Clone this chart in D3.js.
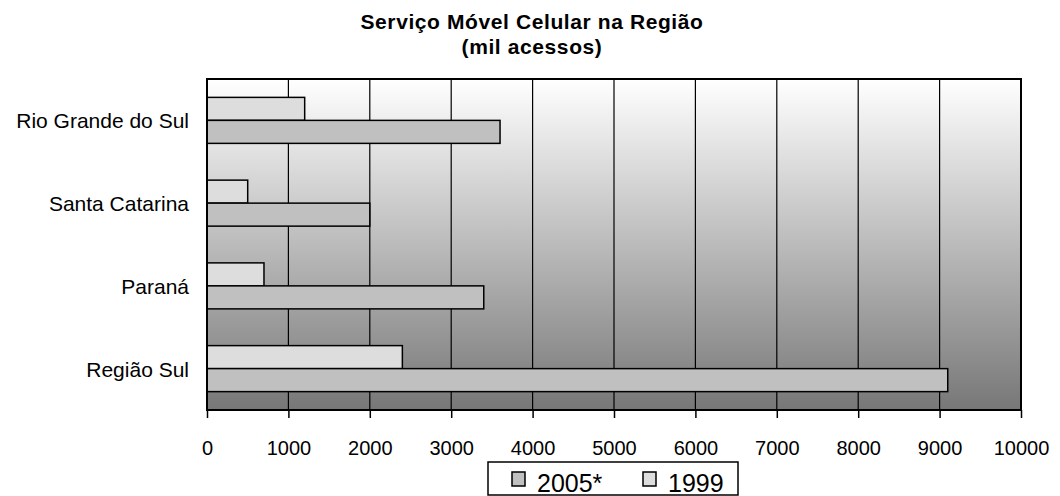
<!DOCTYPE html>
<html>
<head>
<meta charset="utf-8">
<script src="https://cdn.jsdelivr.net/npm/d3@7"></script>
<style>
  body { margin: 0; background: #fff; }
  text { font-family: "Liberation Sans", Arial, sans-serif; fill: #000; }
</style>
</head>
<body>
<div id="chart"></div>
<script>
// data
var categories = ['Rio Grande do Sul', 'Santa Catarina', 'Paraná', 'Região Sul']
var values1999 = [1200, 500, 700, 2400]
var values2005 = [3600, 2000, 3400, 9100]
var seriesNames = ['2005*', '1999']
var xTicks = [0, 1000, 2000, 3000, 4000, 5000, 6000, 7000, 8000, 9000, 10000]

var W = 1060, H = 496
var plotL = 207, plotR = 1021, plotT = 79, plotB = 410

var svg = d3.select('#chart').append('svg')
            .attr('width', W)
            .attr('height', H)

var defs = svg.append('defs')
var grad = defs.append('linearGradient')
               .attr('id', 'bg')
               .attr('x1', 0).attr('y1', 0)
               .attr('x2', 0).attr('y2', 1)
grad.append('stop').attr('offset', '0%').attr('stop-color', '#ffffff')
grad.append('stop').attr('offset', '100%').attr('stop-color', '#777777')

var x = d3.scaleLinear().domain([0, 10000]).range([plotL, plotR])
var y = d3.scaleBand().domain(categories).range([plotT, plotB]).paddingInner(0).paddingOuter(0)
var barH = 23
var pad = (y.bandwidth() - 2 * barH) / 2

// title
svg.append('text')
   .attr('x', 532).attr('y', 29)
   .attr('text-anchor', 'middle')
   .style('font-size', '21px').style('font-weight', 'bold').style('letter-spacing', '0.6px')
   .text('Serviço Móvel Celular na Região')
svg.append('text')
   .attr('x', 532).attr('y', 54)
   .attr('text-anchor', 'middle')
   .style('font-size', '21px').style('font-weight', 'bold').style('letter-spacing', '0.6px')
   .text('(mil acessos)')

// plot background
svg.append('rect')
   .attr('x', plotL).attr('y', plotT)
   .attr('width', plotR - plotL).attr('height', plotB - plotT)
   .attr('fill', 'url(#bg)')

// grid
svg.selectAll('.grid')
   .data(xTicks.slice(1, -1))
   .enter().append('line')
   .attr('x1', function(d){ return x(d) }).attr('x2', function(d){ return x(d) })
   .attr('y1', plotT).attr('y2', plotB)
   .attr('stroke', '#000').attr('stroke-width', 1.2)

// bars
categories.forEach(function(c, i){
   svg.append('rect')
      .attr('x', x(0)).attr('y', y(c) + pad)
      .attr('width', x(values1999[i]) - x(0)).attr('height', barH)
      .attr('fill', '#dddddd').attr('stroke', '#000').attr('stroke-width', 1.5)
   svg.append('rect')
      .attr('x', x(0)).attr('y', y(c) + pad + barH)
      .attr('width', x(values2005[i]) - x(0)).attr('height', barH)
      .attr('fill', '#c0c0c0').attr('stroke', '#000').attr('stroke-width', 1.5)
})

// frame
svg.append('rect')
   .attr('x', plotL).attr('y', plotT)
   .attr('width', plotR - plotL).attr('height', plotB - plotT)
   .attr('fill', 'none').attr('stroke', '#000').attr('stroke-width', 2)

// x axis
var xAxis = svg.append('g')
   .attr('transform', 'translate(0,' + plotB + ')')
   .call(d3.axisBottom(x).tickValues(xTicks).tickFormat(d3.format('d')).tickSize(8).tickPadding(0))
xAxis.select('.domain').remove()
xAxis.selectAll('line').attr('stroke', '#000').attr('stroke-width', 1.5)
xAxis.selectAll('text')
   .attr('y', 45).attr('dy', null)
   .style('font-size', '20px')
   .style('font-family', '"Liberation Sans", Arial, sans-serif')

// y labels
categories.forEach(function(c){
   svg.append('text')
      .attr('x', 189).attr('y', y(c) + y.bandwidth() / 2 + 8)
      .attr('text-anchor', 'end')
      .style('font-size', '21px')
      .text(c)
})

// legend
svg.append('rect')
   .attr('x', 488).attr('y', 462).attr('width', 250).attr('height', 33)
   .attr('fill', '#fff').attr('stroke', '#000').attr('stroke-width', 1.5)
var legColors = ['#c0c0c0', '#dddddd']
var legX = [512, 643]
seriesNames.forEach(function(n, i){
   svg.append('rect')
      .attr('x', legX[i]).attr('y', 472).attr('width', 13).attr('height', 14)
      .attr('fill', legColors[i]).attr('stroke', '#000').attr('stroke-width', 1.5)
   svg.append('text')
      .attr('x', legX[i] + 25).attr('y', 492)
      .style('font-size', '25px')
      .text(n)
})
</script>
</body>
</html>
